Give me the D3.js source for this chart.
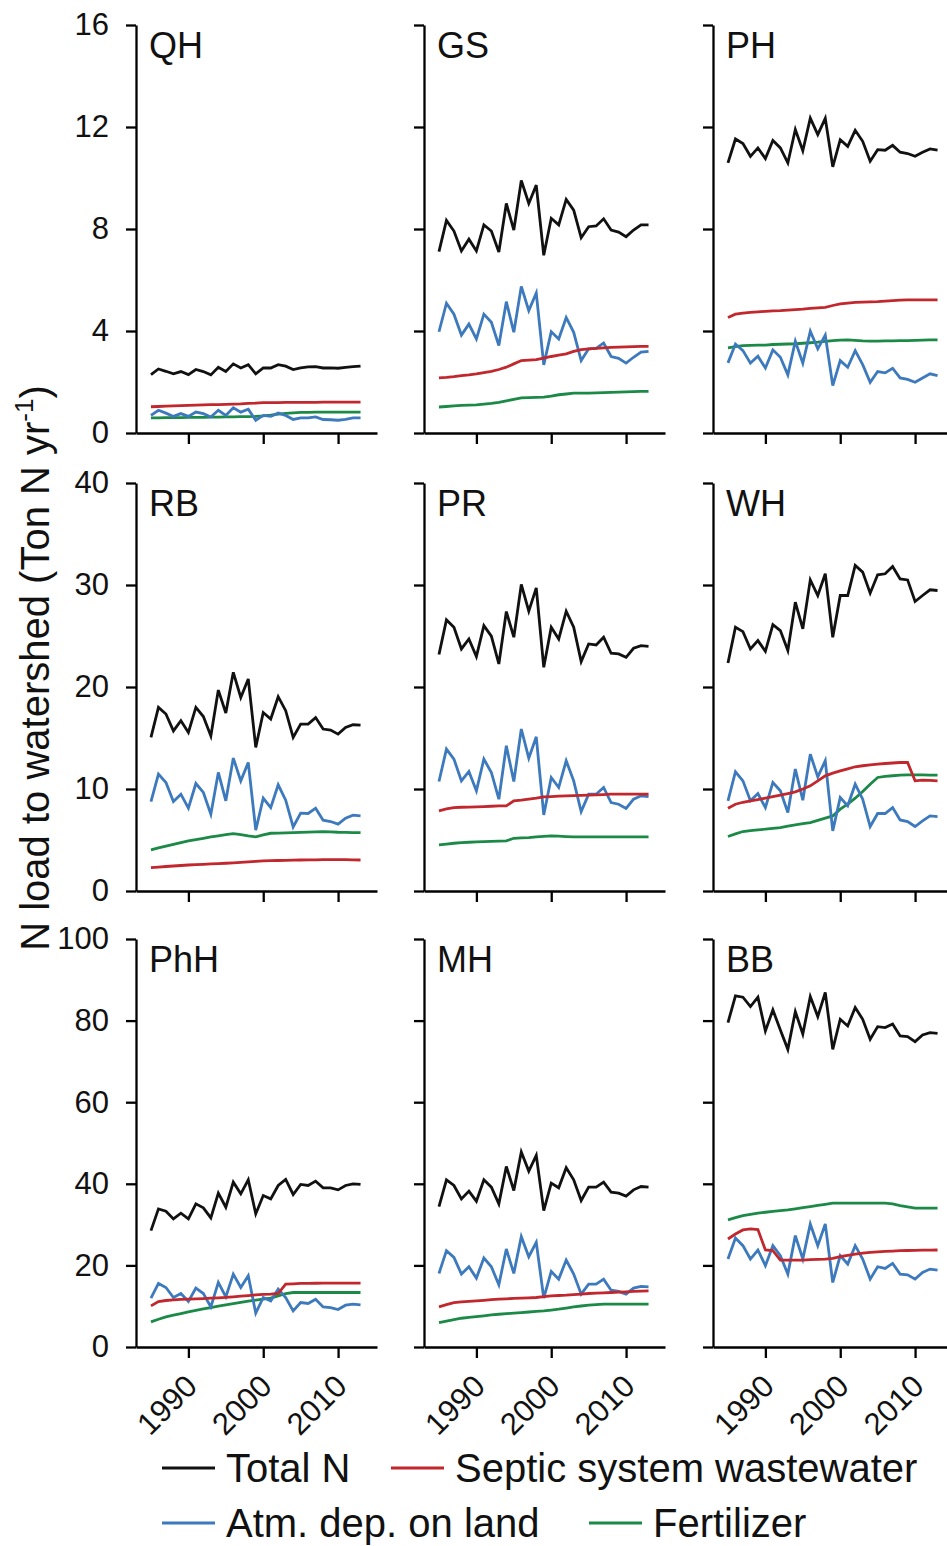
<!DOCTYPE html>
<html>
<head>
<meta charset="utf-8">
<script src="https://cdn.jsdelivr.net/npm/d3@7"></script>
<style>
  body { margin: 0; background: #fff; }
  svg { display: block; font-family: Arial, "Liberation Sans", sans-serif; }
</style>
</head>
<body>
<svg id="drawing_region"></svg>
<script>
// Years (1985 - 2013)
const years = [1985, 1986, 1987, 1988, 1989, 1990, 1991, 1992, 1993, 1994,
               1995, 1996, 1997, 1998, 1999, 2000, 2001, 2002, 2003, 2004,
               2005, 2006, 2007, 2008, 2009, 2010, 2011, 2012, 2013];

const panelNames = ["QH", "GS", "PH", "RB", "PR", "WH", "PhH", "MH", "BB"];
const rowMax = [16, 40, 100];
const rowTicks = [[0, 4, 8, 12, 16], [0, 10, 20, 30, 40], [0, 20, 40, 60, 80, 100]];
const xTicks = [1990, 2000, 2010];

const seriesKeys = ["fert", "atm", "septic", "total"];
const seriesLabels = {total: "Total N", septic: "Septic system wastewater", atm: "Atm. dep. on land", fert: "Fertilizer"};
const seriesColors = {total: "#111111", septic: "#c1272d", atm: "#3d79bd", fert: "#1b8a47"};

// QH
const QH_total  = [2.29,2.51,2.42,2.32,2.41,2.29,2.49,2.41,2.28,2.58,2.41,2.71,2.55,2.68,2.32,2.55,2.55,2.68,2.62,2.49,2.55,2.59,2.6,2.55,2.55,2.54,2.57,2.6,2.62];
const QH_septic = [1.03,1.04,1.05,1.06,1.07,1.08,1.09,1.1,1.11,1.11,1.12,1.13,1.14,1.16,1.17,1.19,1.19,1.19,1.2,1.2,1.2,1.2,1.2,1.21,1.21,1.21,1.21,1.21,1.21];
const QH_atm    = [0.69,0.89,0.78,0.65,0.76,0.65,0.82,0.76,0.63,0.89,0.69,0.99,0.82,0.93,0.5,0.69,0.65,0.78,0.69,0.53,0.59,0.59,0.63,0.53,0.52,0.5,0.53,0.59,0.59];
const QH_fert   = [0.59,0.59,0.6,0.6,0.6,0.61,0.61,0.61,0.62,0.62,0.63,0.63,0.64,0.64,0.65,0.67,0.7,0.74,0.77,0.79,0.81,0.81,0.82,0.82,0.82,0.82,0.82,0.82,0.82];
// GS
const GS_total  = [7.11,8.34,7.92,7.14,7.6,7.14,8.16,7.92,7.1,9.0,7.96,9.9,9.0,9.72,6.97,8.42,8.16,9.16,8.74,7.66,8.09,8.12,8.4,7.96,7.88,7.7,7.96,8.16,8.16];
const GS_septic = [2.16,2.18,2.21,2.25,2.28,2.32,2.37,2.42,2.49,2.58,2.71,2.84,2.86,2.88,2.94,3.0,3.05,3.1,3.2,3.27,3.3,3.32,3.34,3.36,3.37,3.38,3.39,3.4,3.4];
const GS_atm    = [3.97,5.09,4.66,3.84,4.27,3.69,4.66,4.34,3.43,5.15,3.95,5.75,4.8,5.49,2.67,3.97,3.69,4.53,3.95,2.84,3.3,3.32,3.53,3.0,2.93,2.74,2.97,3.17,3.2];
const GS_fert   = [1.02,1.04,1.06,1.08,1.09,1.1,1.13,1.16,1.2,1.26,1.32,1.38,1.39,1.4,1.41,1.45,1.5,1.53,1.56,1.56,1.56,1.57,1.58,1.59,1.6,1.61,1.62,1.63,1.63];
// PH
const PH_total  = [10.59,11.53,11.35,10.85,11.18,10.76,11.47,11.18,10.59,11.9,11.07,12.35,11.7,12.34,10.44,11.5,11.24,11.87,11.44,10.66,11.11,11.09,11.28,11.01,10.96,10.85,11.01,11.14,11.09];
const PH_septic = [4.53,4.66,4.7,4.73,4.75,4.77,4.79,4.8,4.82,4.84,4.86,4.89,4.91,4.93,5.0,5.06,5.09,5.12,5.13,5.14,5.15,5.17,5.19,5.21,5.22,5.22,5.22,5.22,5.22];
const PH_atm    = [2.75,3.49,3.23,2.74,3.01,2.55,3.26,2.97,2.28,3.6,2.74,3.99,3.3,3.84,1.86,2.84,2.58,3.23,2.68,1.99,2.41,2.36,2.54,2.16,2.1,1.99,2.16,2.32,2.25];
const PH_fert   = [3.34,3.39,3.43,3.44,3.45,3.45,3.47,3.48,3.49,3.5,3.52,3.54,3.56,3.59,3.62,3.64,3.65,3.63,3.61,3.6,3.6,3.61,3.61,3.62,3.62,3.63,3.64,3.65,3.65];
// RB
const RB_total  = [15.06,18.0,17.35,15.7,16.7,15.55,18.0,17.1,15.2,19.7,17.45,21.44,18.98,20.79,14.08,17.5,16.86,19.05,17.68,15.06,16.37,16.37,17.0,15.88,15.78,15.38,16.04,16.3,16.27];
const RB_septic = [2.29,2.34,2.4,2.45,2.5,2.55,2.58,2.62,2.65,2.68,2.72,2.76,2.8,2.85,2.9,2.95,2.97,2.99,3.01,3.03,3.04,3.05,3.06,3.07,3.08,3.08,3.07,3.06,3.04];
const RB_atm    = [8.77,11.46,10.64,8.77,9.49,8.12,10.54,9.66,7.53,11.62,8.84,13.03,10.8,12.6,5.96,9.1,8.18,10.41,8.9,6.28,7.63,7.6,8.12,6.94,6.81,6.55,7.14,7.43,7.36];
const RB_fert   = [4.03,4.22,4.4,4.58,4.75,4.91,5.04,5.17,5.3,5.41,5.52,5.63,5.52,5.4,5.3,5.5,5.66,5.68,5.7,5.73,5.75,5.78,5.8,5.83,5.8,5.76,5.75,5.73,5.73];
// PR
const PR_total  = [23.18,26.58,25.86,23.73,24.71,22.98,26.02,24.98,22.26,27.4,24.88,30.05,27.43,29.72,21.93,25.86,24.71,27.43,25.86,22.49,24.22,24.12,24.88,23.31,23.24,22.91,23.8,24.06,23.99];
const PR_septic = [7.86,8.05,8.18,8.21,8.23,8.25,8.28,8.31,8.35,8.35,8.84,8.9,9.0,9.1,9.23,9.26,9.3,9.33,9.35,9.37,9.39,9.42,9.45,9.49,9.49,9.49,9.49,9.49,9.49];
const PR_atm    = [10.74,13.91,12.93,10.8,11.72,9.82,12.93,11.62,9.0,14.24,10.74,15.88,13.03,15.12,7.46,11.13,10.15,12.77,10.8,7.79,9.49,9.49,10.15,8.67,8.51,8.09,9.0,9.33,9.26];
const PR_fert   = [4.52,4.6,4.68,4.75,4.78,4.81,4.84,4.87,4.89,4.91,5.17,5.2,5.24,5.3,5.35,5.4,5.38,5.34,5.3,5.3,5.3,5.3,5.3,5.3,5.3,5.3,5.3,5.3,5.3];
// WH
const WH_total  = [22.36,25.86,25.43,23.73,24.55,23.5,26.12,25.53,23.57,28.31,25.7,30.5,28.97,31.1,24.88,28.97,28.97,31.92,31.26,29.2,31.0,31.1,31.82,30.6,30.5,28.38,28.97,29.53,29.46];
const WH_septic = [8.12,8.51,8.7,8.84,8.97,9.1,9.25,9.39,9.55,9.72,10.0,10.31,10.8,11.29,11.55,11.78,11.98,12.18,12.28,12.37,12.44,12.5,12.55,12.6,12.6,10.8,10.87,10.84,10.8];
const WH_atm    = [8.84,11.69,10.8,8.84,9.56,8.18,10.64,9.82,7.69,11.95,8.9,13.42,11.19,12.77,5.89,9.17,8.35,10.47,9.0,6.32,7.6,7.6,8.18,6.97,6.81,6.32,6.87,7.36,7.3];
const WH_fert   = [5.34,5.6,5.83,5.92,6.0,6.06,6.14,6.22,6.35,6.48,6.6,6.71,6.92,7.14,7.36,8.02,8.51,9.1,9.75,10.47,11.13,11.23,11.3,11.36,11.38,11.39,11.38,11.37,11.36];
// PhH
const PhH_total  = [28.52,33.85,33.28,31.39,32.79,31.39,35.08,34.1,31.64,37.7,34.26,40.41,37.54,40.98,32.62,37.13,36.31,39.59,41.07,37.38,39.84,39.59,40.66,39.02,39.02,38.52,39.59,40.0,39.84];
const PhH_septic = [10.08,11.15,11.4,11.56,11.65,11.72,11.8,11.88,11.97,12.05,12.15,12.3,12.45,12.6,12.79,12.88,12.95,13.11,15.41,15.48,15.57,15.6,15.63,15.66,15.66,15.66,15.66,15.66,15.66];
const PhH_atm    = [11.97,15.57,14.59,12.13,13.11,11.15,14.43,13.11,9.84,15.82,12.3,17.87,14.59,17.46,8.28,12.13,11.31,14.18,12.13,8.85,10.9,10.66,11.72,9.84,9.67,9.18,10.25,10.49,10.33];
const PhH_fert   = [6.15,6.8,7.38,7.8,8.2,8.61,8.97,9.32,9.67,10.0,10.33,10.66,10.94,11.22,11.48,11.72,11.97,12.54,13.11,13.36,13.36,13.36,13.36,13.36,13.36,13.36,13.36,13.36,13.36];
// MH
const MH_total  = [34.43,40.98,39.59,36.31,38.2,35.74,40.98,39.18,35.08,44.26,38.36,47.79,43.11,46.97,33.44,40.16,39.02,43.93,40.98,35.9,39.18,39.18,40.41,37.95,37.7,36.97,38.52,39.34,39.18];
const MH_septic = [9.84,10.4,10.9,11.05,11.2,11.31,11.45,11.6,11.72,11.8,11.9,11.97,12.05,12.13,12.33,12.54,12.62,12.7,12.84,12.98,13.11,13.2,13.28,13.36,13.45,13.53,13.61,13.7,13.77];
const MH_atm    = [18.03,23.61,21.97,17.87,19.67,16.89,21.8,19.67,15.25,24.02,18.03,27.05,22.13,25.66,11.97,18.52,16.64,21.31,17.87,12.95,15.41,15.41,16.64,13.93,13.61,12.95,14.43,14.84,14.75];
const MH_fert   = [5.98,6.35,6.7,7.05,7.25,7.46,7.65,7.85,8.03,8.17,8.3,8.44,8.58,8.72,8.85,9.05,9.26,9.55,9.84,10.05,10.25,10.38,10.49,10.49,10.49,10.49,10.49,10.49,10.49];
// BB
const BB_total  = [79.51,86.07,85.74,83.44,85.74,77.46,82.62,77.7,72.95,82.21,76.72,85.9,80.98,86.89,72.95,80.33,78.69,83.2,80.33,75.41,78.52,78.28,79.18,76.23,76.07,74.84,76.48,77.05,76.89];
const BB_septic = [26.48,27.7,28.69,28.93,28.77,23.77,23.61,21.31,21.31,21.31,21.31,21.4,21.48,21.56,21.7,22.13,22.46,22.79,23.0,23.2,23.32,23.44,23.52,23.61,23.65,23.7,23.73,23.75,23.77];
const BB_atm    = [21.56,26.72,24.84,21.56,23.77,19.92,24.84,22.38,17.87,27.3,21.56,30.16,24.84,30.16,15.82,22.38,20.33,24.84,21.56,16.64,19.67,19.26,20.49,17.87,17.7,16.64,18.28,19.1,18.85];
const BB_fert   = [31.15,31.7,32.2,32.5,32.8,33.03,33.22,33.42,33.61,33.88,34.16,34.43,34.7,34.98,35.25,35.25,35.25,35.25,35.25,35.25,35.25,35.25,35.1,34.67,34.35,34.02,34.02,34.02,34.02];

const panelData = {
    QH:  {total: QH_total,  septic: QH_septic,  atm: QH_atm,  fert: QH_fert},
    GS:  {total: GS_total,  septic: GS_septic,  atm: GS_atm,  fert: GS_fert},
    PH:  {total: PH_total,  septic: PH_septic,  atm: PH_atm,  fert: PH_fert},
    RB:  {total: RB_total,  septic: RB_septic,  atm: RB_atm,  fert: RB_fert},
    PR:  {total: PR_total,  septic: PR_septic,  atm: PR_atm,  fert: PR_fert},
    WH:  {total: WH_total,  septic: WH_septic,  atm: WH_atm,  fert: WH_fert},
    PhH: {total: PhH_total, septic: PhH_septic, atm: PhH_atm, fert: PhH_fert},
    MH:  {total: MH_total,  septic: MH_septic,  atm: MH_atm,  fert: MH_fert},
    BB:  {total: BB_total,  septic: BB_septic,  atm: BB_atm,  fert: BB_fert}
};

const config = {
    width: 947,
    height: 1546,
    colX: [136, 424, 713],
    rowY: [25, 483, 939],
    panelW: 241,
    panelH: 408,
    xDomain: [1983, 2015.2]
};

const svg = d3.select('#drawing_region')
    .attr('width', config.width)
    .attr('height', config.height);

panelNames.forEach((name, i) => {
    const col = i % 3;
    const row = Math.floor(i / 3);
    const g = svg.append('g')
        .attr('transform', `translate(${config.colX[col]}, ${config.rowY[row]})`);

    const xscale = d3.scaleLinear().domain(config.xDomain).range([0, config.panelW]);
    const yscale = d3.scaleLinear().domain([0, rowMax[row]]).range([config.panelH, 0]);

    // lines
    const line = d3.line()
        .x((d, j) => xscale(years[j]))
        .y(d => yscale(d));
    seriesKeys.forEach(k => {
        g.append('path')
            .datum(panelData[name][k])
            .attr('fill', 'none')
            .attr('stroke', seriesColors[k])
            .attr('stroke-width', 2.8)
            .attr('d', line);
    });

    // y axis (labels only on the left column)
    const yaxis = d3.axisLeft(yscale)
        .tickValues(rowTicks[row])
        .tickSize(10)
        .tickSizeOuter(0)
        .tickPadding(17)
        .tickFormat(col === 0 ? d3.format('d') : () => '');
    const yg = g.append('g').call(yaxis)
        .attr('font-size', 31)
        .attr('font-family', null);
    yg.selectAll('path, line').attr('stroke', '#000').attr('stroke-width', 2.3);
    yg.selectAll('text').attr('fill', '#111');

    // x axis (labels only on the bottom row)
    const xaxis = d3.axisBottom(xscale)
        .tickValues(xTicks)
        .tickSize(11)
        .tickSizeOuter(0)
        .tickFormat(row === 2 ? d3.format('d') : () => '');
    const xg = g.append('g')
        .attr('transform', `translate(0, ${config.panelH})`)
        .call(xaxis)
        .attr('font-size', 31)
        .attr('font-family', null);
    xg.selectAll('path, line').attr('stroke', '#000').attr('stroke-width', 2.3);
    xg.selectAll('text')
        .attr('x', 0)
        .attr('y', 0)
        .attr('dy', null)
        .attr('fill', '#111')
        .attr('text-anchor', 'end')
        .attr('transform', 'translate(10, 41) rotate(-45)');

    // panel name
    g.append('text')
        .attr('x', 13)
        .attr('y', 33)
        .attr('font-size', 36)
        .attr('fill', '#111')
        .text(name);
});

// y axis title
const title = svg.append('text')
    .attr('transform', 'translate(49, 668) rotate(-90)')
    .attr('text-anchor', 'middle')
    .attr('font-size', 40)
    .attr('fill', '#111');
title.append('tspan').text('N load to watershed (Ton N yr');
title.append('tspan').attr('font-size', 26).attr('dy', -16).text('-1');
title.append('tspan').attr('dy', 16).text(')');

// legend
const legendItems = [
    {key: 'total', x: 162, row: 0},
    {key: 'septic', x: 391, row: 0},
    {key: 'atm', x: 162, row: 1},
    {key: 'fert', x: 589, row: 1}
];
const legendRowY = [1468, 1523];
const legend = svg.append('g');
legendItems.forEach(d => {
    const y0 = legendRowY[d.row];
    legend.append('line')
        .attr('x1', d.x).attr('x2', d.x + 53)
        .attr('y1', y0).attr('y2', y0)
        .attr('stroke', seriesColors[d.key])
        .attr('stroke-width', 2.8);
    legend.append('text')
        .attr('x', d.x + 64)
        .attr('y', y0 + 14)
        .attr('font-size', 40)
        .attr('fill', '#111')
        .text(seriesLabels[d.key]);
});
</script>
</body>
</html>
